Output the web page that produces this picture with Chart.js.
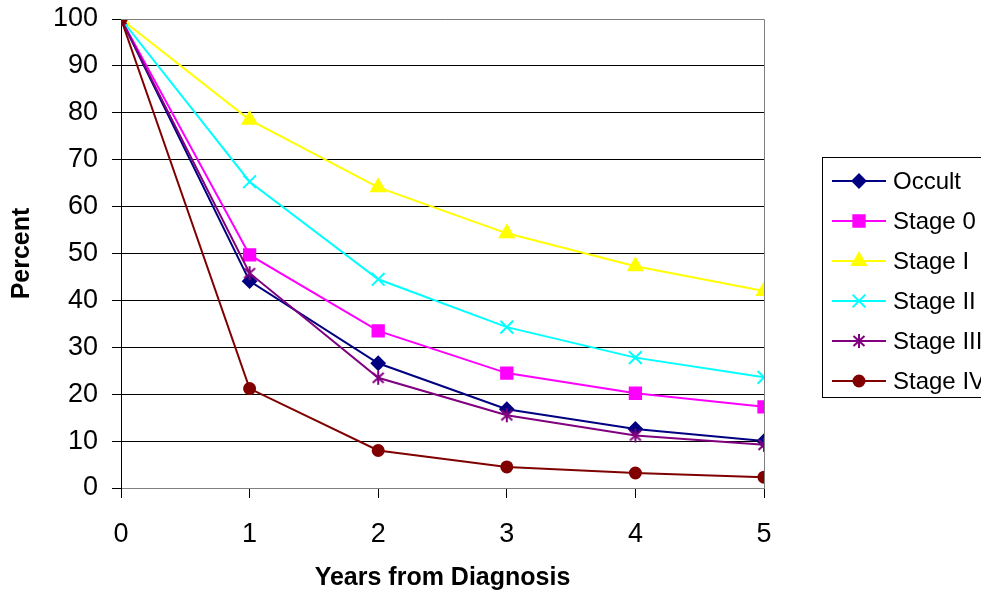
<!DOCTYPE html>
<html>
<head>
<meta charset="utf-8">
<script src="https://cdn.jsdelivr.net/npm/chart.js@4.4.0/dist/chart.umd.min.js"></script>
<style>
  html, body { margin: 0; padding: 0; background: #fff; }
  #wrap { width: 981px; height: 595px; }
</style>
</head>
<body>
<div id="wrap"><canvas id="survivalChart" width="981" height="595"></canvas></div>
<script>
// survival by stage
const years = [0, 1, 2, 3, 4, 5];
const occult   = [100, 44.1, 26.6, 16.8, 12.6, 10.0];
const stage0   = [100, 49.7, 33.5, 24.5, 20.2, 17.3];
const stageI   = [100, 78.5, 64.1, 54.3, 47.3, 42.0];
const stageII  = [100, 65.3, 44.5, 34.3, 27.8, 23.6];
const stageIII = [100, 45.8, 23.5, 15.5, 11.2, 9.2];
const stageIV  = [100, 21.2, 8.0, 4.5, 3.2, 2.3];

const seriesNames = ['Occult', 'Stage 0', 'Stage I', 'Stage II', 'Stage III', 'Stage IV'];
const seriesData = [occult, stage0, stageI, stageII, stageIII, stageIV];
const seriesColors = ['#000080', '#ff00ff', '#ffff00', '#00ffff', '#800080', '#800000'];
const markerSizes = [6.5, 8, 8, 9, 7, 5.5];

const FONT = "'Liberation Sans', Arial, sans-serif";

// Excel-style asterisk: vertical bar plus two diagonals, no horizontal bar
function asteriskMarker(color) {
    const cv = document.createElement('canvas');
    cv.width = 16; cv.height = 16;
    const g = cv.getContext('2d');
    g.strokeStyle = color;
    g.lineWidth = 2;
    g.beginPath();
    g.moveTo(8, 1); g.lineTo(8, 15);
    g.moveTo(2.5, 3); g.lineTo(13.5, 13);
    g.moveTo(13.5, 3); g.lineTo(2.5, 13);
    g.stroke();
    return cv;
}

const seriesMarkers = ['rectRot', 'rect', 'triangle', 'crossRot', asteriskMarker('#800080'), 'circle'];

const datasets = seriesNames.map((name, i) => ({
    label: name,
    data: years.map((x, j) => ({ x: x, y: seriesData[i][j] })),
    borderColor: seriesColors[i],
    backgroundColor: seriesColors[i],
    pointStyle: seriesMarkers[i],
    pointRadius: markerSizes[i],
    pointBorderWidth: 2,
    borderWidth: 2,
    tension: 0,
    order: seriesNames.length - i   // later series drawn on top, like the original
}));

// plot border (top + right, gray) and the boxed legend on the right
const frameAndLegend = {
    id: 'frameAndLegend',
    afterDatasetsDraw(chart) {
        const c = chart.ctx;
        const a = chart.chartArea;
        c.save();
        c.strokeStyle = '#808080';
        c.lineWidth = 1;
        c.beginPath();
        c.moveTo(a.left, a.top + 0.5);
        c.lineTo(a.right + 0.5, a.top + 0.5);
        c.lineTo(a.right + 0.5, a.bottom);
        c.stroke();
        c.restore();
    },
    afterDraw(chart) {
        const c = chart.ctx;
        c.save();
        c.strokeStyle = '#000';
        c.lineWidth = 1;
        c.strokeRect(822.5, 157.5, 170, 240);
        c.font = '24px ' + FONT;
        c.textBaseline = 'middle';
        c.textAlign = 'left';
        chart.data.datasets.forEach((ds, i) => {
            const y = 181 + i * 40;
            c.strokeStyle = ds.borderColor;
            c.lineWidth = 2;
            c.beginPath();
            c.moveTo(832, y);
            c.lineTo(886, y);
            c.stroke();
            c.fillStyle = ds.backgroundColor;
            c.strokeStyle = ds.borderColor;
            Chart.helpers.drawPoint(c, {
                pointStyle: ds.pointStyle,
                radius: ds.pointRadius,
                rotation: 0,
                borderWidth: 2
            }, 859, y);
            c.fillStyle = '#000';
            c.fillText(ds.label, 893, y + 1);
        });
        c.restore();
    }
};

new Chart(document.getElementById('survivalChart'), {
    type: 'line',
    data: { datasets: datasets },
    options: {
        responsive: false,
        animation: false,
        layout: { padding: { top: 19, right: 217, left: 0, bottom: 0 } },
        plugins: { legend: { display: false }, tooltip: { enabled: false } },
        scales: {
            x: {
                type: 'linear',
                min: 0, max: 5,
                afterFit(scale) { scale.height = 107; scale.paddingLeft = 0; scale.paddingRight = 0; },
                ticks: { stepSize: 1, color: '#000', padding: 20, font: { family: FONT, size: 27 } },
                grid: { display: true, drawOnChartArea: false, drawTicks: true, tickLength: 10, color: '#000' },
                border: { color: '#808080', width: 1 },
                title: {
                    display: true, text: 'Years from Diagnosis', color: '#000',
                    font: { family: FONT, size: 25, weight: 'bold' },
                    padding: { top: 0, bottom: 2 }
                }
            },
            y: {
                min: 0, max: 100,
                afterFit(scale) { scale.width = 121; scale.paddingTop = 0; scale.paddingBottom = 0; },
                ticks: { stepSize: 10, color: '#000', padding: 14, font: { family: FONT, size: 27 } },
                grid: { color: '#000', lineWidth: 1, tickLength: 9 },
                border: { color: '#000', width: 1 },
                title: {
                    display: true, text: 'Percent', color: '#000',
                    font: { family: FONT, size: 25, weight: 'bold' },
                    padding: { top: 7, bottom: 0 }
                }
            }
        }
    },
    plugins: [frameAndLegend]
});
</script>
</body>
</html>
